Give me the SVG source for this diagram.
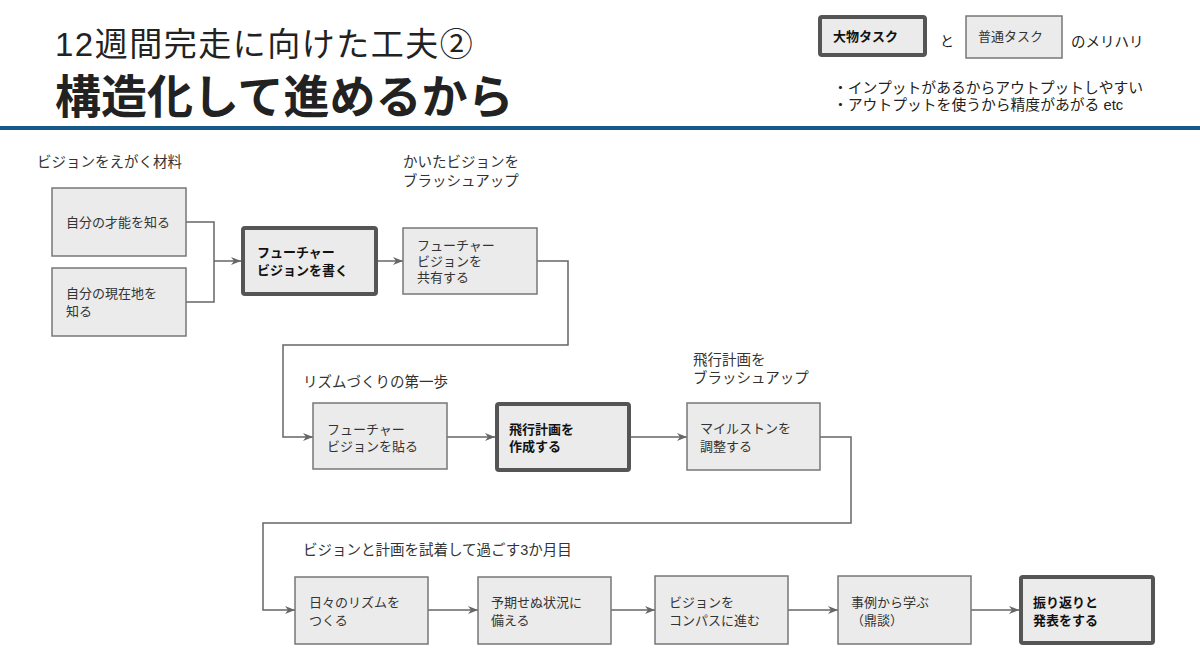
<svg xmlns="http://www.w3.org/2000/svg" width="1200" height="670" viewBox="0 0 1200 670">
<defs>
<style>
text{font-family:"Liberation Sans","Noto Sans CJK JP",sans-serif;fill:#222;}
.lbl{font-size:14.5px;fill:#333;}
.bt{font-size:13px;fill:#333;}
.bb{font-size:13px;font-weight:bold;fill:#111;}
.box{fill:#ebebeb;stroke:#777;stroke-width:1.5;}
.big{fill:#ebebeb;stroke:#555;stroke-width:4;}
.con{fill:none;stroke:#666;stroke-width:1.5;}
</style>
<marker id="arr" viewBox="0 0 10 8" refX="10" refY="4" markerWidth="10" markerHeight="8" markerUnits="userSpaceOnUse" orient="auto">
<path d="M0,0 L10,4 L0,8 L3,4 z" fill="#666"/>
</marker>
</defs>
<rect width="1200" height="670" fill="#fff"/>
<g id="title">
<text x="55" y="56" font-size="33" letter-spacing="1.5" fill="#111">12週間完走に向けた工夫②</text>
<text x="55" y="113" font-size="46" font-weight="bold" fill="#111">構造化して進めるから</text>
<rect x="0" y="126" width="1200" height="4" fill="#175a88"/>
</g>
<g id="legend">
<rect x="820" y="17" width="105" height="38" rx="2" class="big"/>
<text x="833" y="41" class="bb">大物タスク</text>
<text x="940" y="46" font-size="14" fill="#333">と</text>
<rect x="966" y="16" width="96" height="42" class="box"/>
<text x="978" y="41" class="bt">普通タスク</text>
<text x="1071" y="47" font-size="14.5" fill="#333">のメリハリ</text>
<text x="833" y="93" font-size="14.8" fill="#333">・インプットがあるからアウトプットしやすい</text>
<text x="833" y="110" font-size="14.8" fill="#333">・アウトプットを使うから精度があがる etc</text>
</g>
<g id="labels">
<text x="37" y="167" class="lbl">ビジョンをえがく材料</text>
<text x="403" y="167" class="lbl">かいたビジョンを</text>
<text x="403" y="186" class="lbl">ブラッシュアップ</text>
<text x="303" y="387" class="lbl">リズムづくりの第一歩</text>
<text x="693" y="365" class="lbl">飛行計画を</text>
<text x="693" y="383" class="lbl">ブラッシュアップ</text>
<text x="303" y="555" class="lbl">ビジョンと計画を試着して過ごす3か月目</text>
</g>
<g id="connectors">
<polyline class="con" points="186,222 214,222 214,302 186,302"/>
<line class="con" x1="214" y1="261" x2="241" y2="261" marker-end="url(#arr)"/>
<line class="con" x1="378" y1="261" x2="403" y2="261" marker-end="url(#arr)"/>
<polyline class="con" points="537,261 568,261 568,345 283,345 283,437 313,437" marker-end="url(#arr)"/>
<line class="con" x1="447" y1="437" x2="495" y2="437" marker-end="url(#arr)"/>
<line class="con" x1="631" y1="437" x2="687" y2="437" marker-end="url(#arr)"/>
<polyline class="con" points="820,437 851,437 851,523 263,523 263,610 295,610" marker-end="url(#arr)"/>
<line class="con" x1="428" y1="610" x2="478" y2="610" marker-end="url(#arr)"/>
<line class="con" x1="611" y1="610" x2="655" y2="610" marker-end="url(#arr)"/>
<line class="con" x1="788" y1="610" x2="838" y2="610" marker-end="url(#arr)"/>
<line class="con" x1="971" y1="610" x2="1019" y2="610" marker-end="url(#arr)"/>
</g>
<g id="n1">
<rect x="52" y="188" width="134" height="68" class="box"/>
<text x="66" y="227" class="bt">自分の才能を知る</text>
</g>
<g id="n2">
<rect x="52" y="268" width="134" height="68" class="box"/>
<text x="66" y="298" class="bt">自分の現在地を</text>
<text x="66" y="316" class="bt">知る</text>
</g>
<g id="n3">
<rect x="243" y="228" width="133" height="66" rx="2" class="big"/>
<text x="257" y="257" class="bb">フューチャー</text>
<text x="257" y="275" class="bb">ビジョンを書く</text>
</g>
<g id="n4">
<rect x="403" y="228" width="134" height="66" class="box"/>
<text x="417" y="250" class="bt">フューチャー</text>
<text x="417" y="266" class="bt">ビジョンを</text>
<text x="417" y="282" class="bt">共有する</text>
</g>
<g id="n5">
<rect x="313" y="403" width="134" height="66" class="box"/>
<text x="327" y="434" class="bt">フューチャー</text>
<text x="327" y="451" class="bt">ビジョンを貼る</text>
</g>
<g id="n6">
<rect x="497" y="404" width="132" height="66" rx="2" class="big"/>
<text x="509" y="434" class="bb">飛行計画を</text>
<text x="509" y="451" class="bb">作成する</text>
</g>
<g id="n7">
<rect x="687" y="403" width="133" height="67" class="box"/>
<text x="700" y="433" class="bt">マイルストンを</text>
<text x="700" y="451" class="bt">調整する</text>
</g>
<g id="n8">
<rect x="295" y="577" width="133" height="67" class="box"/>
<text x="309" y="607" class="bt">日々のリズムを</text>
<text x="309" y="625" class="bt">つくる</text>
</g>
<g id="n9">
<rect x="478" y="577" width="133" height="67" class="box"/>
<text x="491" y="607" class="bt">予期せぬ状況に</text>
<text x="491" y="625" class="bt">備える</text>
</g>
<g id="n10">
<rect x="655" y="576" width="133" height="68" class="box"/>
<text x="669" y="607" class="bt">ビジョンを</text>
<text x="669" y="625" class="bt">コンパスに進む</text>
</g>
<g id="n11">
<rect x="838" y="576" width="133" height="68" class="box"/>
<text x="851" y="607" class="bt">事例から学ぶ</text>
<text x="851" y="625" class="bt">（鼎談）</text>
</g>
<g id="n12">
<rect x="1021" y="577" width="132" height="66" rx="2" class="big"/>
<text x="1033" y="607" class="bb">振り返りと</text>
<text x="1033" y="625" class="bb">発表をする</text>
</g>
</svg>
